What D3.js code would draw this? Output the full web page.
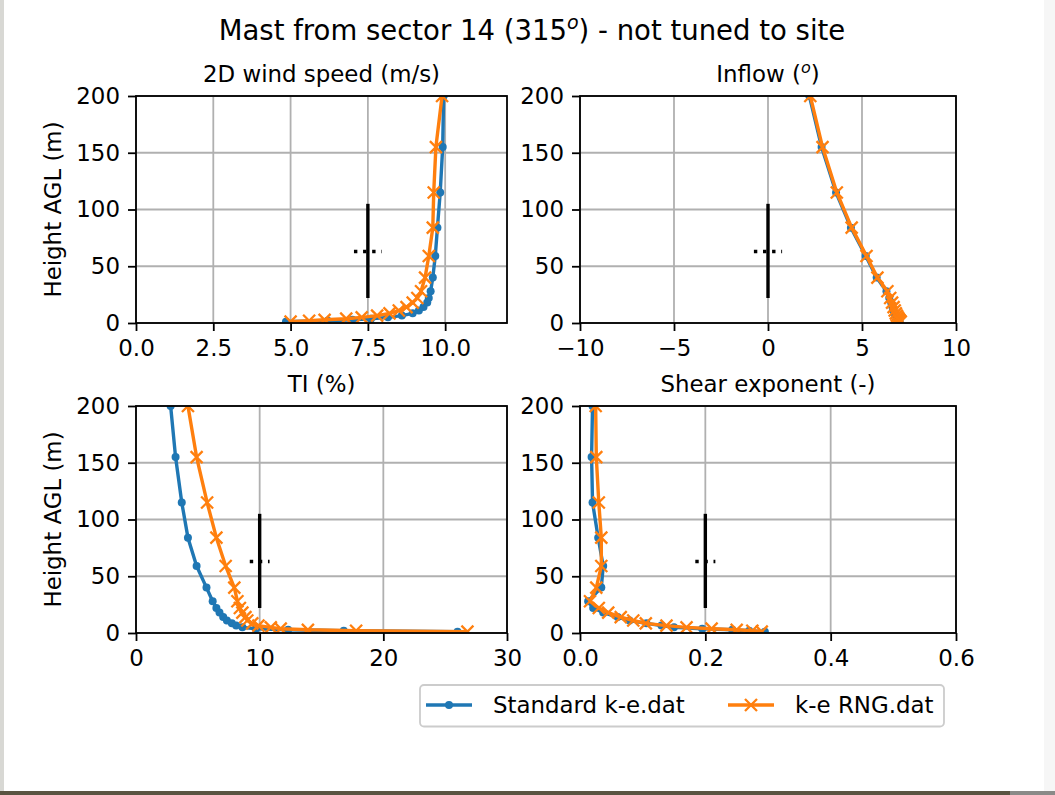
<!DOCTYPE html>
<html>
<head>
<meta charset="utf-8">
<script src="https://cdn.jsdelivr.net/npm/d3@7"></script>
<style>
  html, body { margin: 0; padding: 0; background: #ffffff; }
  svg { display: block; font-family: "DejaVu Sans", sans-serif; }
</style>
</head>
<body>
<svg id="chart" width="1055" height="795"></svg>
<script>
// ---------------- DATA ----------------
const heights = [200, 155, 115, 84, 59, 40, 28, 22, 18, 14, 11, 8.5, 6.5, 5, 3.8, 2.8, 2, 1.2];

const seriesNames = ["Standard k-e.dat", "k-e RNG.dat"];

const windStd = [9.95, 9.92, 9.84, 9.75, 9.68, 9.6, 9.53, 9.47, 9.42, 9.3, 9.15, 8.95, 8.6, 8.15, 7.6, 7.0, 6.2, 4.85];
const windRng = [9.9, 9.7, 9.63, 9.6, 9.47, 9.35, 9.22, 9.1, 8.95, 8.75, 8.5, 8.2, 7.8, 7.3, 6.8, 6.1, 5.6, 5.0];

const inflowStd = [2.2, 2.85, 3.62, 4.41, 5.2, 5.78, 6.3, 6.45, 6.55, 6.62, 6.68, 6.74, 6.79, 6.84, 6.88, 6.92, 6.96, 7.0];
const inflowRng = [2.25, 2.9, 3.66, 4.45, 5.24, 5.82, 6.35, 6.5, 6.6, 6.68, 6.74, 6.8, 6.85, 6.9, 6.94, 6.98, 7.02, 7.06];

const tiStd = [2.8, 3.2, 3.7, 4.2, 4.9, 5.7, 6.2, 6.5, 6.75, 7.05, 7.35, 7.75, 8.1, 8.6, 9.7, 12.3, 16.8, 26.0];
const tiRng = [4.2, 4.9, 5.75, 6.5, 7.25, 7.95, 8.2, 8.4, 8.6, 8.85, 9.0, 9.4, 9.9, 10.9, 11.7, 13.9, 17.8, 26.8];

const shearStd = [0.02, 0.0185, 0.02, 0.029, 0.037, 0.034, 0.013, 0.021, 0.037, 0.06, 0.079, 0.106, 0.13, 0.15, 0.195, 0.243, 0.27, 0.295];
const shearRng = [0.025, 0.026, 0.03, 0.034, 0.034, 0.026, 0.016, 0.03, 0.045, 0.065, 0.085, 0.105, 0.138, 0.17, 0.21, 0.25, 0.275, 0.29];

// mast measurement marker: value, vertical extent, hub height, half-width of dotted line
const mastValues = [7.5, 0, 10, 0.2];
const mastHalfWidth = [0.45, 0.75, 0.8, 0.016];
const mastRange = [22, 105];
const mastHub = 63;

const panelTitles = ["2D wind speed (m/s)", "Inflow", "TI (%)", "Shear exponent (-)"];
const xDomains = [[0, 12], [-10, 10], [0, 30], [0, 0.6]];
const xTicks = [[0, 2.5, 5, 7.5, 10], [-10, -5, 0, 5, 10], [0, 10, 20, 30], [0, 0.2, 0.4, 0.6]];
const xFormats = [".1f", "d", "d", ".1f"];
const yDomain = [0, 200];
const yTicks = [0, 50, 100, 150, 200];
const yLabel = "Height AGL (m)";
const titleMain = "Mast from sector 14 (315";
const titleTail = ") - not tuned to site";

// ---------------- LAYOUT ----------------
const W = 1055, H = 795;
const FS = 22.9;
const panels = [
  {x: 136, y: 96, w: 371, h: 227},
  {x: 580, y: 96, w: 376, h: 227},
  {x: 136, y: 406, w: 371, h: 227},
  {x: 580, y: 406, w: 376, h: 227}
];
const seriesData = [[windStd, windRng], [inflowStd, inflowRng], [tiStd, tiRng], [shearStd, shearRng]];
const colors = ["#1f77b4", "#ff7f0e"];
const LW = 3.4, SPINE = 1.8;

const svg = d3.select("#chart");

// page artifacts (screenshot edges)
svg.append("rect").attr("x", 0).attr("y", 0).attr("width", W).attr("height", H).attr("fill", "#ffffff");
svg.append("rect").attr("x", 0).attr("y", 0).attr("width", 4).attr("height", H).attr("fill", "#d8d8d4");
svg.append("rect").attr("x", 1044).attr("y", 0).attr("width", 11).attr("height", H).attr("fill", "#f6f6f6");
svg.append("rect").attr("x", 0).attr("y", 791).attr("width", 1010).attr("height", 4).attr("fill", "#5a5442");
svg.append("rect").attr("x", 1010).attr("y", 791).attr("width", 45).attr("height", 4).attr("fill", "#8a8a88");

const defs = svg.append("defs");

// Title
const tt = svg.append("text").attr("x", 532).attr("y", 40).attr("text-anchor", "middle")
  .attr("font-size", 27.5).attr("fill", "#000");
tt.append("tspan").text(titleMain);
tt.append("tspan").attr("font-size", 19).attr("font-style", "italic").attr("dy", -11).text("o");
tt.append("tspan").attr("dy", 11).text(titleTail);

function xMarkerPath(s) {
  return `M${-s},${-s}L${s},${s}M${-s},${s}L${s},${-s}`;
}

panels.forEach((p, i) => {
  const x = d3.scaleLinear().domain(xDomains[i]).range([p.x, p.x + p.w]);
  const y = d3.scaleLinear().domain(yDomain).range([p.y + p.h, p.y]);
  const g = svg.append("g");

  // grid
  g.append("g").selectAll("line").data(xTicks[i]).join("line")
    .attr("x1", d => x(d)).attr("x2", d => x(d)).attr("y1", p.y).attr("y2", p.y + p.h)
    .attr("stroke", "#b0b0b0").attr("stroke-width", SPINE);
  g.append("g").selectAll("line").data(yTicks).join("line")
    .attr("x1", p.x).attr("x2", p.x + p.w).attr("y1", d => y(d)).attr("y2", d => y(d))
    .attr("stroke", "#b0b0b0").attr("stroke-width", SPINE);

  // clip
  const cid = "clip" + i;
  defs.append("clipPath").attr("id", cid).append("rect")
    .attr("x", p.x).attr("y", p.y).attr("width", p.w).attr("height", p.h);
  const dg = g.append("g").attr("clip-path", `url(#${cid})`);

  const line = d3.line().x(d => x(d[0])).y(d => y(d[1]));
  seriesData[i].forEach((vals, s) => {
    const pts = vals.map((v, k) => [v, heights[k]]);
    dg.append("path").datum(pts).attr("d", line).attr("fill", "none")
      .attr("stroke", colors[s]).attr("stroke-width", LW).attr("stroke-linejoin", "round").attr("stroke-linecap", "square");
    if (s === 0) {
      dg.append("g").selectAll("circle").data(pts).join("circle")
        .attr("cx", d => x(d[0])).attr("cy", d => y(d[1])).attr("r", 4)
        .attr("fill", colors[s]);
    } else {
      dg.append("g").selectAll("path").data(pts).join("path")
        .attr("transform", d => `translate(${x(d[0])},${y(d[1])})`)
        .attr("d", xMarkerPath(6)).attr("stroke", colors[s]).attr("stroke-width", 2.3).attr("fill", "none");
    }
  });

  // mast marker
  dg.append("line").attr("x1", x(mastValues[i])).attr("x2", x(mastValues[i]))
    .attr("y1", y(mastRange[0])).attr("y2", y(mastRange[1]))
    .attr("stroke", "#000").attr("stroke-width", 3.4);
  dg.append("line").attr("x1", x(mastValues[i] - mastHalfWidth[i])).attr("x2", x(mastValues[i] + mastHalfWidth[i]))
    .attr("y1", y(mastHub)).attr("y2", y(mastHub))
    .attr("stroke", "#000").attr("stroke-width", 3.4).attr("stroke-dasharray", "3.4,5.7");

  // axes
  const xa = d3.axisBottom(x).tickValues(xTicks[i]).tickFormat(d3.format(xFormats[i])).tickSize(8).tickPadding(9);
  const ya = d3.axisLeft(y).tickValues(yTicks).tickFormat(d3.format("d")).tickSize(8).tickPadding(8);
  const gx = g.append("g").attr("transform", `translate(0,${p.y + p.h})`).call(xa);
  const gy = g.append("g").attr("transform", `translate(${p.x},0)`).call(ya);
  [gx, gy].forEach(a => {
    a.select(".domain").remove();
    a.selectAll(".tick line").attr("stroke", "#000").attr("stroke-width", SPINE);
    a.selectAll(".tick text").attr("font-size", FS).attr("font-family", "DejaVu Sans").attr("fill", "#000");
  });

  // frame
  g.append("rect").attr("x", p.x).attr("y", p.y).attr("width", p.w).attr("height", p.h)
    .attr("fill", "none").attr("stroke", "#000").attr("stroke-width", SPINE);

  // subplot title
  const st = g.append("text").attr("x", p.x + p.w / 2).attr("y", p.y - 14)
    .attr("text-anchor", "middle").attr("font-size", FS).attr("fill", "#000");
  st.append("tspan").text(panelTitles[i]);
  if (i === 1) {
    st.append("tspan").text(" (");
    st.append("tspan").attr("font-size", 16).attr("font-style", "italic").attr("dy", -9).text("o");
    st.append("tspan").attr("dy", 9).text(")");
  }

  // y label for left panels
  if (i % 2 === 0) {
    g.append("text").attr("transform", `translate(61,${p.y + p.h / 2}) rotate(-90)`)
      .attr("text-anchor", "middle").attr("font-size", FS).attr("fill", "#000").text(yLabel);
  }
});

// Legend
const lg = svg.append("g");
lg.append("rect").attr("x", 420).attr("y", 685).attr("width", 524).attr("height", 41.5).attr("rx", 4)
  .attr("fill", "#ffffff").attr("fill-opacity", 0.8).attr("stroke", "#cccccc").attr("stroke-width", 1.8);
const legX = [426, 728];
seriesNames.forEach((name, s) => {
  const lx = legX[s], ly = 705;
  lg.append("line").attr("x1", lx).attr("x2", lx + 46).attr("y1", ly).attr("y2", ly)
    .attr("stroke", colors[s]).attr("stroke-width", LW);
  if (s === 0) {
    lg.append("circle").attr("cx", lx + 23).attr("cy", ly).attr("r", 4).attr("fill", colors[s]);
  } else {
    lg.append("path").attr("transform", `translate(${lx + 23},${ly})`).attr("d", xMarkerPath(6))
      .attr("stroke", colors[s]).attr("stroke-width", 2.3);
  }
  lg.append("text").attr("x", lx + 67).attr("y", ly + 8).attr("font-size", FS).attr("fill", "#000").text(name);
});
</script>
</body>
</html>
